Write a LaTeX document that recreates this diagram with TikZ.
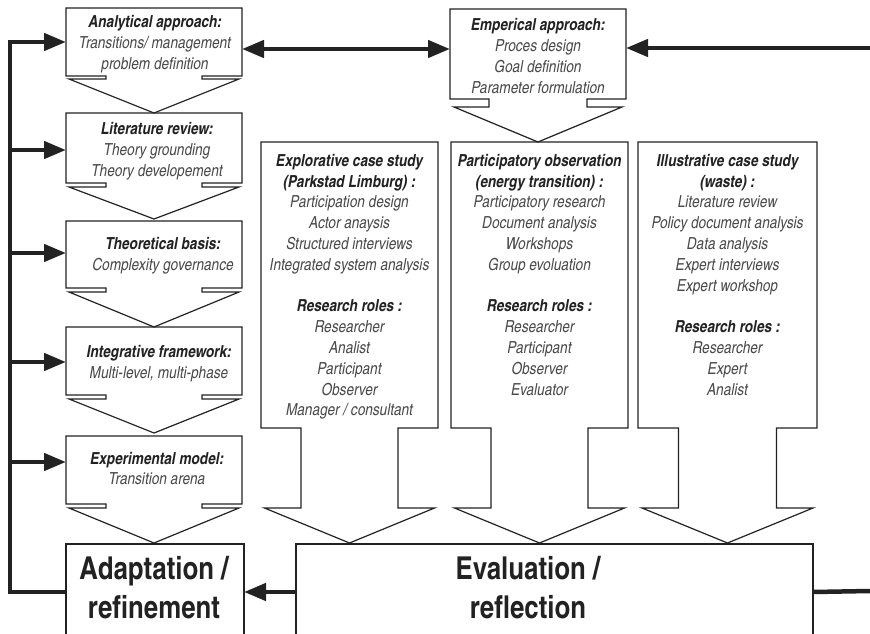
\documentclass[tikz,border=0pt]{standalone}
\usepackage{fontspec}
\setmainfont{texgyreheroscn-regular.otf}[
  ItalicFont=texgyreheroscn-italic.otf,
  BoldFont=texgyreheroscn-bold.otf,
  BoldItalicFont=texgyreheroscn-bolditalic.otf]
\usetikzlibrary{arrows.meta,calc}

\definecolor{ink}{HTML}{222222}
\definecolor{soft}{HTML}{4A4A4A}

\tikzset{
  outline/.style={draw=ink, line width=1.2pt, line join=miter},
  feed/.style={draw=ink, line width=4.5pt},
  feedarrow/.style={feed, -{Triangle[length=22pt,width=17pt]}},
  feedboth/.style={feed, {Triangle[length=22pt,width=17pt]}-{Triangle[length=22pt,width=17pt]}},
  area/.style={inner sep=0pt, outer sep=0pt},
  note/.style={align=center, inner sep=0pt, text=soft,
    font=\fontsize{16.6}{20.8}\selectfont\itshape},
  bigtext/.style={align=center, inner sep=0pt, text=ink,
    font=\fontsize{31.5}{39}\selectfont\bfseries},
}
\newcommand\hd[1]{{\bfseries\color{ink}#1}}

% box outline merged with a down-pointing block arrow:
% #1 node, #2 neck half width, #3 head half width, #4 neck length, #5 head length
\newcommand\downcallout[5]{%
  \draw[outline] (#1.south west) -- (#1.north west) -- (#1.north east) -- (#1.south east)
    -- ($(#1.south)+(#2,0)$) -- ($(#1.south)+(#2,#4)$) -- ($(#1.south)+(#3,#4)$)
    -- ($(#1.south)+(0,#4+#5)$) -- ($(#1.south)+(-#3,#4)$) -- ($(#1.south)+(-#2,#4)$)
    -- ($(#1.south)+(-#2,0)$) -- cycle;}

\begin{document}
\begin{tikzpicture}[x=1pt,y=-1pt]
  \useasboundingbox (0,0) rectangle (870,634);
  \fill[white] (0,0) rectangle (870,634);
  \clip (0,0) rectangle (870,634);

  % ---- left column: research steps ----
  \node[area, minimum width=176pt, minimum height=68pt] (b1) at (154,42) {};
  \node[area, minimum width=176pt, minimum height=70pt] (b2) at (154,148) {};
  \node[area, minimum width=176pt, minimum height=67pt] (b3) at (154,254.5) {};
  \node[area, minimum width=176pt, minimum height=68pt] (b4) at (154,361) {};
  \node[area, minimum width=176pt, minimum height=68pt] (b5) at (154,470) {};
  \node[area, minimum width=178pt, minimum height=96pt] (adapt) at (155,592) {};

  \downcallout{b1}{48}{85}{3}{34}
  \downcallout{b2}{48}{85}{4}{32}
  \downcallout{b3}{48}{85}{4}{35}
  \downcallout{b4}{48}{85}{4}{34}
  \downcallout{b5}{48}{85}{4}{35}
  \draw[outline] (adapt.south west) -- (adapt.north west) -- (adapt.north east) -- (adapt.south east);

  \node[note] (t1) at (155,44) {\hd{Analytical approach:}\\Transitions/ management\\problem definition};
  \node[note] (t2) at (157,151) {\hd{Literature review:}\\Theory grounding\\Theory developement};
  \node[note] (t3) at (163,256) {\hd{Theoretical basis:}\\Complexity governance};
  \node[note] (t4) at (159,363.5) {\hd{Integrative framework:}\\Multi-level, multi-phase};
  \node[note] (t5) at (157,468.5) {\hd{Experimental model:}\\Transition arena};
  \node[bigtext] (t6) at (154,588) {Adaptation /\\refinement};

  % ---- empirical branch ----
  \node[area, minimum width=176pt, minimum height=90pt] (emp) at (538,54) {};
  \downcallout{emp}{49}{84}{8}{35}
  \node[note] (t7) at (538,56) {\hd{Emperical approach:}\\Proces design\\Goal definition\\Parameter formulation};

  \node[area, minimum width=177pt, minimum height=286pt] (ca) at (349.5,285) {};
  \node[area, minimum width=177pt, minimum height=286pt] (cb) at (539.5,285) {};
  \node[area, minimum width=179pt, minimum height=286pt] (cc) at (727.5,285) {};
  \downcallout{ca}{48.5}{85}{80}{35}
  \downcallout{cb}{48.5}{85}{80}{35}
  \downcallout{cc}{49}{85.5}{80}{35}

  \node[note, anchor=north] (ta) at (349.5,154) {\hd{Explorative case study}\\\hd{(Parkstad Limburg) :}\\
    Participation design\\Actor anaysis\\Structured interviews\\Integrated system analysis\\[20.8pt]
    \hd{Research roles :}\\Researcher\\Analist\\Participant\\Observer\\Manager / consultant};
  \node[note, anchor=north] (tb) at (539.5,154) {\hd{Participatory observation}\\\hd{(energy transition) :}\\
    Participatory research\\Document analysis\\Workshops\\Group evoluation\\[20.8pt]
    \hd{Research roles :}\\Researcher\\Participant\\Observer\\Evaluator};
  \node[note, anchor=north] (tc) at (727.5,154) {\hd{Illustrative case study}\\\hd{(waste) :}\\
    Literature review\\Policy document analysis\\Data analysis\\Expert interviews\\Expert workshop\\[20.8pt]
    \hd{Research roles :}\\Researcher\\Expert\\Analist};

  \node[area, minimum width=517pt, minimum height=96pt] (eval) at (554.5,592) {};
  \draw[outline] (eval.south west) -- (eval.north west) -- (eval.north east) -- (eval.south east);
  \node[bigtext] (t8) at (528,588) {Evaluation /\\reflection};

  % ---- feedback connectors ----
  \coordinate (s1) at (10,42);
  \coordinate (s2) at (10,150);
  \coordinate (s3) at (10,253);
  \coordinate (s4) at (10,362);
  \coordinate (s5) at (10,462);
  \draw[feed, line join=miter] (adapt.west) -| ([yshift=2.25pt]s1);
  \draw[feedarrow] (s1) -- (b1.west);
  \draw[feedarrow] (s2) -- (s2 -| b2.west);
  \draw[feedarrow] (s3) -- (s3 -| b3.west);
  \draw[feedarrow] (s4) -- (s4 -| b4.west);
  \draw[feedarrow] (s5) -- (s5 -| b5.west);

  \draw[feedboth] ([yshift=-7pt]b1.east) -- ([yshift=5pt]emp.west);
  \coordinate (rin) at (870,48);
  \draw[feedarrow] (rin) -- (rin -| emp.east);

  \draw[feedarrow] (eval.west) -- (adapt.east);
  \coordinate (rout) at (870,591);
  \draw[feed] (eval.east) -- (rout);
\end{tikzpicture}
\end{document}
